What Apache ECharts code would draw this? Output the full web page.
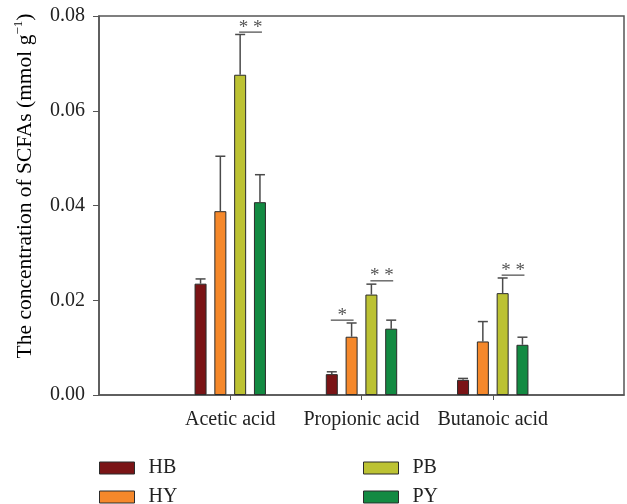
<!DOCTYPE html>
<html>
<head>
<meta charset="utf-8">
<script src="https://cdn.jsdelivr.net/npm/echarts@6/dist/echarts.min.js"></script>
<style>
  html, body { margin: 0; padding: 0; background: #fff; }
  #chart { width: 627px; height: 504px; }
</style>
</head>
<body>
<div id="chart"></div>
<script>
// SCFA concentrations (mmol g-1), mean and SD per group
const categories = ['Acetic acid', 'Propionic acid', 'Butanoic acid'];
const groups = ['HB', 'HY', 'PB', 'PY'];
const meanHB = [0.0235, 0.0044, 0.0032];
const meanHY = [0.0388, 0.0123, 0.0113];
const meanPB = [0.0676, 0.0212, 0.0215];
const meanPY = [0.0407, 0.0140, 0.0106];
const sdHB = [0.0010, 0.0005, 0.0003];
const sdHY = [0.0116, 0.0029, 0.0042];
const sdPB = [0.0085, 0.0022, 0.0032];
const sdPY = [0.0058, 0.0018, 0.0016];
const yTicks = [0, 0.02, 0.04, 0.06, 0.08];

// significance brackets: acid, bracket height, first group, last group, mark
const sigAcid = ['Acetic acid', 'Propionic acid', 'Propionic acid', 'Butanoic acid'];
const sigLevel = [0.0766, 0.0158, 0.0241, 0.0253];
const sigFrom = ['PB', 'HB', 'PB', 'PB'];
const sigTo = ['PY', 'HY', 'PY', 'PY'];
const sigMark = ['* *', '*', '* *', '* *'];

const means = [meanHB, meanHY, meanPB, meanPY];
const sds = [sdHB, sdHY, sdPB, sdPY];
const colors = ['#7a1416', '#f5882b', '#bcc233', '#138a42'];
const FONT = '"Liberation Serif", "Times New Roman", serif';
const BAR_W = 12;
const BAR_GAP = 0.65;               // fraction of bar width
const STEP = BAR_W * (1 + BAR_GAP); // centre-to-centre distance of bars

// the axis carries an empty slot on each side of the three acids
const axisCats = [''].concat(categories, ['']);
const catIndex = name => axisCats.indexOf(name);
const groupOffset = g => (g - (groups.length - 1) / 2) * STEP;

const barSeries = groups.map((g, gi) => ({
  name: g,
  type: 'bar',
  barWidth: BAR_W,
  barGap: (BAR_GAP * 100) + '%',
  itemStyle: { color: colors[gi], borderColor: '#2b2b2b', borderWidth: 1 },
  data: ['-'].concat(means[gi], ['-']),
  z: 2
}));

const errSeries = groups.map((g, gi) => ({
  type: 'custom',
  name: g + ' SD',
  z: 3,
  silent: true,
  data: categories.map((c, i) => [catIndex(c), means[gi][i], means[gi][i] + sds[gi][i]]),
  renderItem(params, api) {
    const base = api.coord([api.value(0), api.value(1)]);
    const top = api.coord([api.value(0), api.value(2)]);
    const cx = base[0] + groupOffset(gi);
    const st = { stroke: '#4a4a4a', lineWidth: 1.5 };
    return {
      type: 'group',
      children: [
        { type: 'line', shape: { x1: cx, y1: base[1], x2: cx, y2: top[1] }, style: st },
        { type: 'line', shape: { x1: cx - 5, y1: top[1], x2: cx + 5, y2: top[1] }, style: st }
      ]
    };
  }
}));

const sigSeries = {
  type: 'custom',
  name: 'significance',
  z: 4,
  silent: true,
  data: sigAcid.map((a, i) => [catIndex(a), sigLevel[i]]),
  renderItem(params, api) {
    const i = params.dataIndex;
    const p = api.coord([api.value(0), api.value(1)]);
    const xa = p[0] + groupOffset(groups.indexOf(sigFrom[i])) - 1;
    const xb = p[0] + groupOffset(groups.indexOf(sigTo[i])) + 2;
    return {
      type: 'group',
      children: [
        { type: 'line', shape: { x1: xa, y1: p[1], x2: xb, y2: p[1] },
          style: { stroke: '#555', lineWidth: 1.3 } },
        { type: 'text', x: (xa + xb) / 2, y: p[1] + 5,
          style: { text: sigMark[i], fill: '#555', font: '19px ' + FONT,
                   align: 'center', verticalAlign: 'bottom' } }
      ]
    };
  }
};

// one legend entry per block: two columns of two rows
const legendSpots = [
  { left: 99, top: 458 },
  { left: 99, top: 487 },
  { left: 363, top: 458 },
  { left: 363, top: 487 }
];
const legends = groups.map((g, gi) => ({
  left: legendSpots[gi].left,
  top: legendSpots[gi].top,
  data: [g],
  padding: 0,
  itemWidth: 35,
  itemHeight: 12,
  icon: 'rect',
  selectedMode: false,
  itemStyle: { borderColor: '#2b2b2b', borderWidth: 1 },
  textStyle: { fontFamily: FONT, fontSize: 20, lineHeight: 12, color: '#222', padding: [0, 0, 0, 9] }
}));

const chart = echarts.init(document.getElementById('chart'), null, { renderer: 'canvas' });
chart.setOption({
  animation: false,
  backgroundColor: '#fff',
  grid: {
    left: 99, right: 1, top: 16, bottom: 109,
    show: true, borderColor: '#555', borderWidth: 1.5, backgroundColor: 'transparent'
  },
  legend: legends,
  xAxis: {
    type: 'category',
    data: axisCats,
    boundaryGap: false,
    axisLine: { lineStyle: { color: '#555', width: 1.5 } },
    axisTick: {
      inside: false, length: 5,
      interval: (idx) => idx > 0 && idx < axisCats.length - 1,
      lineStyle: { color: '#555' }
    },
    axisLabel: {
      interval: 0, margin: 15,
      fontFamily: FONT, fontSize: 20, color: '#222'
    },
    splitLine: { show: false }
  },
  yAxis: {
    type: 'value',
    min: yTicks[0],
    max: yTicks[yTicks.length - 1],
    interval: yTicks[1] - yTicks[0],
    axisLine: { show: true, lineStyle: { color: '#555', width: 1.5 } },
    axisTick: { show: true, length: 6, lineStyle: { color: '#555' } },
    axisLabel: {
      margin: 14, fontFamily: FONT, fontSize: 20, color: '#222',
      formatter: v => v.toFixed(2)
    },
    splitLine: { show: false }
  },
  graphic: [{
    type: 'text',
    x: 25, y: 186,
    rotation: Math.PI / 2,
    style: {
      text: '{a|The concentration of SCFAs (mmol g}{s|−1}{a|)}',
      align: 'center', verticalAlign: 'middle',
      rich: {
        a: { fontFamily: FONT, fontSize: 21.5, color: '#222', lineHeight: 26 },
        s: { fontFamily: FONT, fontSize: 13, color: '#222', verticalAlign: 'top', lineHeight: 13 }
      }
    }
  }],
  series: barSeries.concat(errSeries, [sigSeries])
});
</script>
</body>
</html>
